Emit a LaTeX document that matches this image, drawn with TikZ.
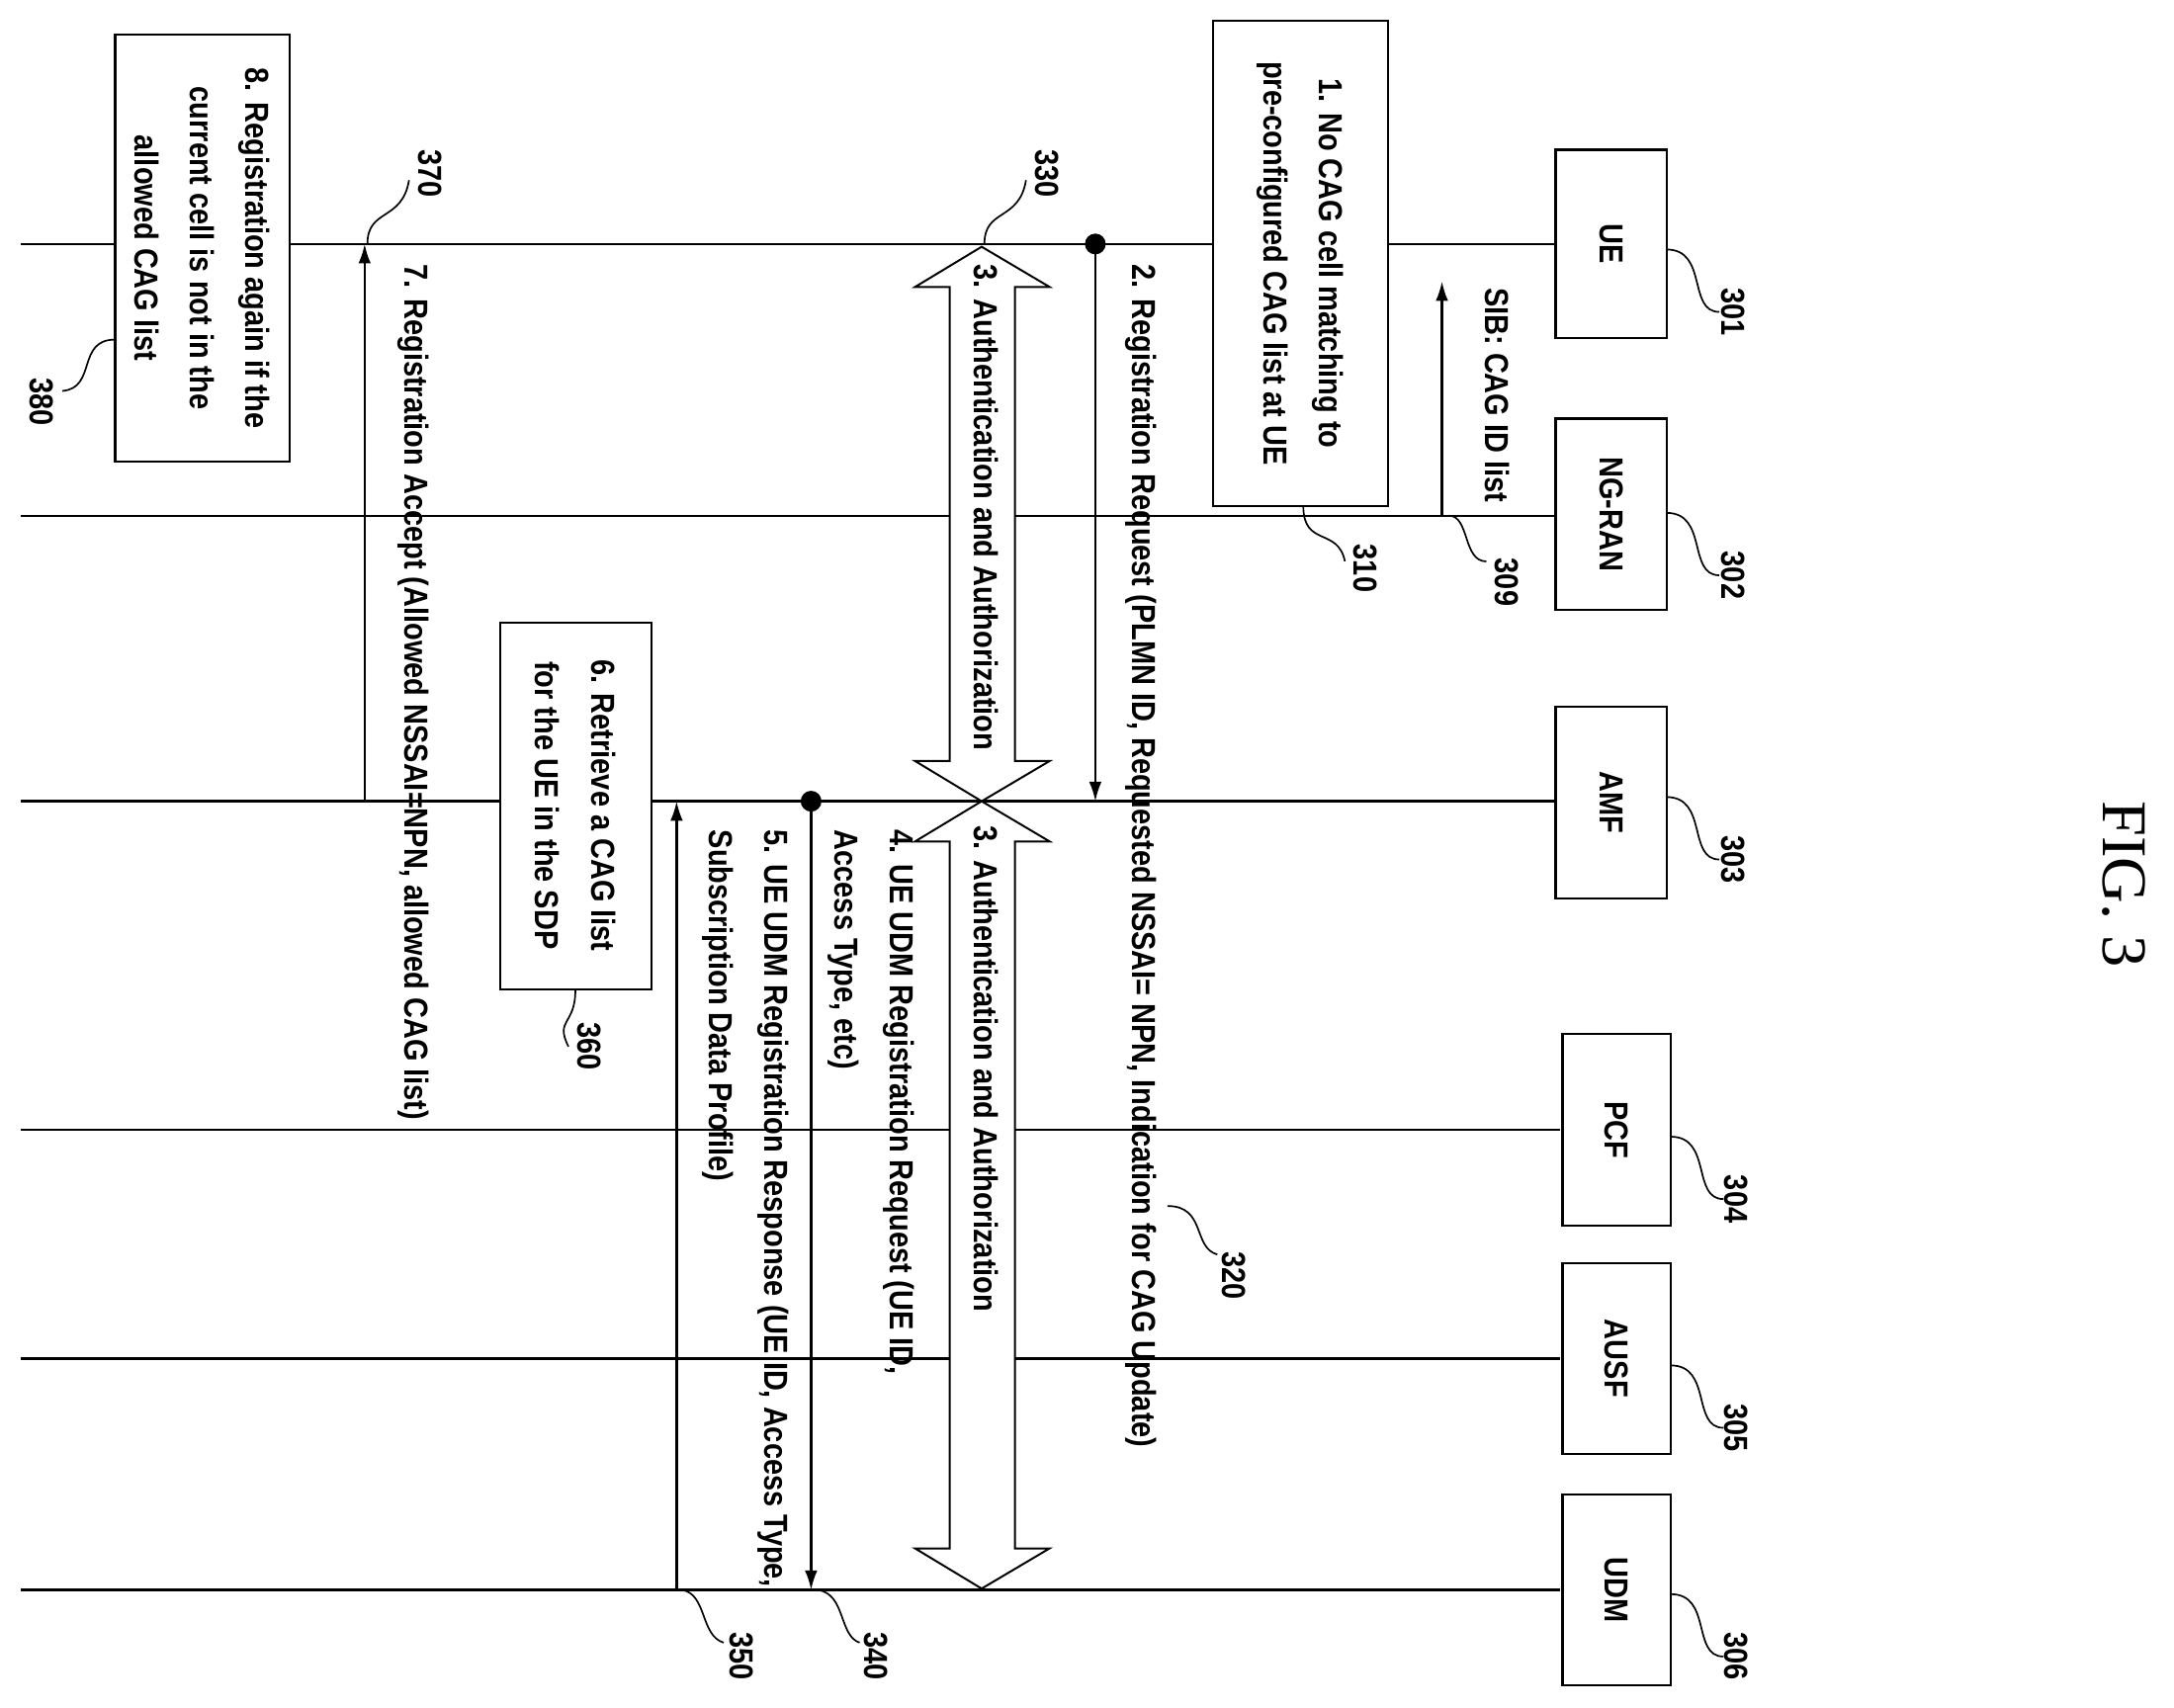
\documentclass[tikz,border=0pt]{standalone}
\usetikzlibrary{arrows.meta}
\usepackage{fontspec}
\setmainfont{Liberation Sans}[FakeStretch=0.86]
\newfontfamily\figfont{Liberation Serif}
\begin{document}
\begin{tikzpicture}[x=1pt,y=-1pt,line width=1.6pt,
  box/.style={draw,line width=1.6pt,fill=white,inner sep=0pt},
  txt/.style={rotate=-90,font=\bfseries\fontsize{24}{40}\selectfont,align=center,inner sep=0pt},
  ltxt/.style={txt,align=left,anchor=north west},
  num/.style={rotate=-90,font=\bfseries\fontsize{24}{28}\selectfont,inner sep=0pt},
  arr/.style={-{Latex[length=14pt,width=9pt]}},
  dotc/.style={circle,fill,inner sep=0pt,minimum size=15pt}]
\useasboundingbox (0,0) rectangle (1568,1232);
\foreach \n/\y in {ue/176,ran/372,amf/578,pcf/815,ausf/980,udm/1147}{
  \coordinate (L\n) at (15,\y);
  \coordinate (R\n) at (1125,\y);
  \draw (L\n) -- (R\n);
}
\foreach \n/\t/\xa/\xb/\ya/\yb/\ny in {ue/UE/1122/1202/108/244/225,ran/NG-RAN/1122/1202/302/440/415,amf/AMF/1122/1202/510/648/620,pcf/PCF/1127/1205/746/884/865,ausf/AUSF/1127/1205/911/1049/1030,udm/UDM/1127/1205/1078/1216/1195}{
  \draw[box] (\xa,\ya) rectangle (\xb,\yb);
  \node[txt] (B\n) at ({(\xa+\xb)/2},{(\ya+\yb)/2}) {\t};
  \draw[line width=1.2pt] (\xb,{\ny-45}) .. controls ({\xb+30},{\ny-45}) and ({\xb+15},\ny) .. ({\xb+38},\ny);
}
\node[num] at (1250,225) {301};
\node[num] at (1250,415) {302};
\node[num] at (1250,620) {303};
\node[num] at (1252,865) {304};
\node[num] at (1252,1030) {305};
\node[num] at (1252,1195) {306};
\node[rotate=-90,font=\figfont\fontsize{46}{50}\selectfont] (fig) at (1532,638) {FIG. 3};
\coordinate (s1) at (1040,372); \coordinate (s2) at (1040,203);
\draw[arr] (s1) -- (s2);
\node[txt] at (1080,285) {SIB: CAG ID list};
\draw[line width=1.2pt] (1045,372) .. controls (1060,372) and (1055,405) .. (1072,405);
\node[num] at (1087,420) {309};
\draw[box] (875,15) rectangle (1001,365);
\node[txt] at (938,190) {1. No CAG cell matching to\\pre-configured CAG list at UE};
\draw[line width=1.2pt] (940,365) .. controls (940,395) and (965,380) .. (970,405);
\node[num] at (985,410) {310};
\node[dotc] (d2) at (790,176) {};
\coordinate (a2) at (790,578);
\draw[arr] (d2.center) -- (a2);
\node[ltxt] at (835,190) {2. Registration Request (PLMN ID, Requested NSSAI= NPN, Indication for CAG Update)};
\draw[line width=1.2pt] (842,870) .. controls (870,870) and (860,900) .. (878,905);
\node[num] at (890,920) {320};
\draw[line width=1.4pt,fill=white] (708,178) -- (757,207) -- (732,207) -- (732,549) -- (757,549) -- (708,578) -- (660,549) -- (685,549) -- (685,207) -- (660,207) -- cycle;
\draw[line width=1.4pt,fill=white] (708,578) -- (757,607) -- (732,607) -- (732,1117) -- (757,1117) -- (708,1146) -- (660,1117) -- (685,1117) -- (685,607) -- (660,607) -- cycle;
\node[ltxt] at (721,190) {3. Authentication and Authorization};
\node[ltxt] at (721,595) {3. Authentication and Authorization};
\draw[line width=1.2pt] (710,176) .. controls (710,150) and (735,160) .. (740,130);
\node[num] at (755,125) {330};
\node[dotc] (d4) at (585,578) {};
\coordinate (a4) at (585,1147);
\draw[arr] (d4.center) -- (a4);
\node[ltxt] at (660,598) {4. UE UDM Registration Request (UE ID,\\Access Type, etc)};
\draw[line width=1.2pt] (590,1147) .. controls (610,1150) and (605,1180) .. (620,1185);
\node[num] at (632,1195) {340};
\coordinate (b5) at (488,1147); \coordinate (a5) at (488,578);
\draw[arr] (b5) -- (a5);
\node[ltxt] at (570,598) {5. UE UDM Registration Response (UE ID, Access Type,\\Subscription Data Profile)};
\draw[line width=1.2pt] (492,1147) .. controls (510,1150) and (505,1180) .. (522,1185);
\node[num] at (535,1195) {350};
\draw[box] (361,449) rectangle (470,714);
\node[txt] at (415,581) {6. Retrieve a CAG list\\for the UE in the SDP};
\draw[line width=1.2pt] (415,714) .. controls (415,740) and (400,735) .. (410,755);
\node[num] at (425,755) {360};
\coordinate (b7) at (263,578); \coordinate (a7) at (263,176);
\draw[arr] (b7) -- (a7);
\node[ltxt] at (310,190) {7. Registration Accept (Allowed NSSAI=NPN, allowed CAG list)};
\draw[line width=1.2pt] (265,176) .. controls (265,150) and (290,160) .. (295,130);
\node[num] at (310,125) {370};
\draw[box] (83,25) rectangle (209,333);
\node[txt] at (146,179) {8. Registration again if the\\current cell is not in the\\allowed CAG list};
\draw[line width=1.2pt] (83,245) .. controls (55,245) and (70,280) .. (45,282);
\node[num] at (30,290) {380};
\end{tikzpicture}
\end{document}
